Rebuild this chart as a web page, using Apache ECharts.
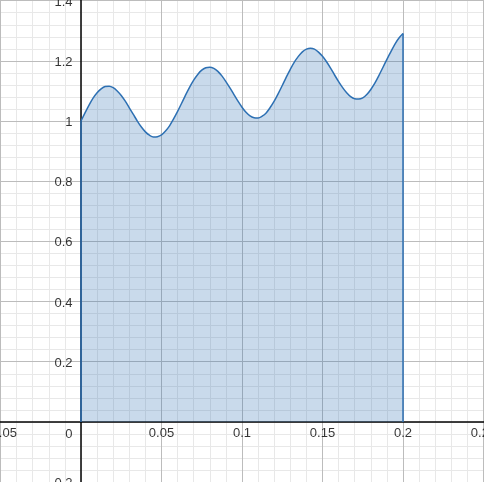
<!DOCTYPE html>
<html>
<head>
<meta charset="utf-8">
<script src="https://cdn.jsdelivr.net/npm/echarts@6/dist/echarts.min.js"></script>
<style>html,body{margin:0;padding:0;background:#fff}#c{width:484px;height:482px}</style>
</head>
<body>
<div id="c"></div>
<script>
// Values
const xs = [0,0.0025,0.005,0.0075,0.01,0.0125,0.015,0.0175,0.02,0.0225,0.025,0.0275,0.03,0.0325,0.035,0.0375,0.04,0.0425,0.045,0.0475,0.05,0.0525,0.055,0.0575,0.06,0.0625,0.065,0.0675,0.07,0.0725,0.075,0.0775,0.08,0.0825,0.085,0.0875,0.09,0.0925,0.095,0.0975,0.1,0.1025,0.105,0.1075,0.11,0.1125,0.115,0.1175,0.12,0.1225,0.125,0.1275,0.13,0.1325,0.135,0.1375,0.14,0.1425,0.145,0.1475,0.15,0.1525,0.155,0.1575,0.16,0.1625,0.165,0.1675,0.17,0.1725,0.175,0.1775,0.18,0.1825,0.185,0.1875,0.19,0.1925,0.195,0.1975,0.2];
const ys = [1.000,1.027,1.053,1.076,1.094,1.107,1.115,1.116,1.111,1.100,1.085,1.066,1.044,1.022,1.000,0.980,0.964,0.953,0.947,0.948,0.954,0.967,0.984,1.007,1.032,1.059,1.087,1.113,1.136,1.155,1.169,1.177,1.179,1.175,1.165,1.150,1.131,1.110,1.088,1.066,1.046,1.029,1.017,1.011,1.010,1.016,1.027,1.045,1.066,1.091,1.118,1.146,1.172,1.196,1.215,1.230,1.239,1.242,1.239,1.229,1.215,1.197,1.176,1.153,1.131,1.111,1.094,1.081,1.074,1.073,1.077,1.088,1.105,1.126,1.151,1.178,1.205,1.231,1.256,1.276,1.291];

// Tick labels / gridline values
const xTicks = [-0.05, 0, 0.05, 0.1, 0.15, 0.2, 0.25];
const yTicks = [-0.2, 0, 0.2, 0.4, 0.6, 0.8, 1, 1.2, 1.4];
const xLabelTicks = [-0.05, 0.05, 0.1, 0.15, 0.2, 0.25];
const yLabelTicks = [-0.2, 0.2, 0.4, 0.6, 0.8, 1, 1.2, 1.4];
const originLabel = [0];
const xMinorStep = 0.01;
const yMinorStep = 0.04;
// Visible window
const xRange = [-0.0503, 0.2503];
const yRange = [-0.1997, 1.4023];

const xMinor = [];
for (let v = -0.05; v <= 0.2501; v += xMinorStep) xMinor.push(+v.toFixed(4));
const yMinor = [];
for (let v = -0.2; v <= 1.4001; v += yMinorStep) yMinor.push(+v.toFixed(4));
const xMajorLines = xTicks.filter(v => v !== 0);
const yMajorLines = yTicks.filter(v => v !== 0);

const curve = xs.map((x, i) => [x, ys[i]]);
const leftEdge = [[xs[0], 0], [xs[0], ys[0]]];
const rightEdge = [[xs[xs.length - 1], 0], [xs[xs.length - 1], ys[ys.length - 1]]];

const blue = '#2d70b3';
const font = 'Liberation Sans, Arial, sans-serif';
const fmt = v => (v < 0 ? '\u2212' : '') + String(+Math.abs(v).toFixed(2));
const labelStyle = {show: true, color: '#000', fontSize: 13, fontFamily: font};

function labelSeries(data, label) {
  return {
    type: 'scatter', xAxisIndex: 1, yAxisIndex: 1, data: data,
    symbol: 'circle', symbolSize: 1, itemStyle: {color: 'rgba(0,0,0,0)'},
    label: Object.assign({}, labelStyle, label), silent: true, clip: false, z: 5
  };
}

const chart = echarts.init(document.getElementById('c'), null, {renderer: 'canvas'});
chart.setOption({
  animation: false,
  grid: {left: 0, right: 0, top: 0, bottom: 0, outerBoundsMode: 'none'},
  xAxis: [
    {
      type: 'value', min: xRange[0], max: xRange[1], z: 0,
      axisLine: {show: false}, axisLabel: {show: false},
      axisTick: {show: false, customValues: xMinor},
      splitLine: {show: true, lineStyle: {color: '#e8e8e8', width: 1}}
    },
    {
      type: 'value', min: xRange[0], max: xRange[1], z: 1,
      axisLine: {onZero: true, onZeroAxisIndex: 1, lineStyle: {color: '#000', width: 1.5}},
      axisTick: {show: false, customValues: xMajorLines},
      splitLine: {show: true, lineStyle: {color: '#bcbcbc', width: 1}},
      axisLabel: {show: false}
    }
  ],
  yAxis: [
    {
      type: 'value', min: yRange[0], max: yRange[1], z: 0,
      axisLine: {show: false}, axisLabel: {show: false},
      axisTick: {show: false, customValues: yMinor},
      splitLine: {show: true, lineStyle: {color: '#e8e8e8', width: 1}}
    },
    {
      type: 'value', min: yRange[0], max: yRange[1], z: 1,
      axisLine: {onZero: true, onZeroAxisIndex: 1, lineStyle: {color: '#000', width: 1.5}},
      axisTick: {show: false, customValues: yMajorLines},
      splitLine: {show: true, lineStyle: {color: '#bcbcbc', width: 1}},
      axisLabel: {show: false}
    }
  ],
  series: [
    {
      type: 'line', xAxisIndex: 1, yAxisIndex: 1, data: curve, smooth: 0.3, showSymbol: false,
      lineStyle: {color: blue, width: 1.5},
      areaStyle: {color: blue, opacity: 0.26},
      z: 3
    },
    {
      type: 'line', xAxisIndex: 1, yAxisIndex: 1, data: leftEdge, showSymbol: false,
      lineStyle: {color: blue, width: 1.5}, z: 3
    },
    {
      type: 'line', xAxisIndex: 1, yAxisIndex: 1, data: rightEdge, showSymbol: false,
      lineStyle: {color: blue, width: 1.5}, z: 3
    },
    labelSeries(xLabelTicks.map(v => [v, 0]), {
      position: 'bottom', distance: 5, formatter: p => fmt(p.value[0])
    }),
    labelSeries(yLabelTicks.map(v => [0, v]), {
      position: 'left', distance: 8, offset: [0, 1.5], formatter: p => fmt(p.value[1])
    }),
    labelSeries(originLabel.map(v => [v, v]), {
      position: 'left', distance: 8, offset: [0, 12.5], formatter: p => fmt(p.value[0])
    })
  ]
});
</script>
</body>
</html>
